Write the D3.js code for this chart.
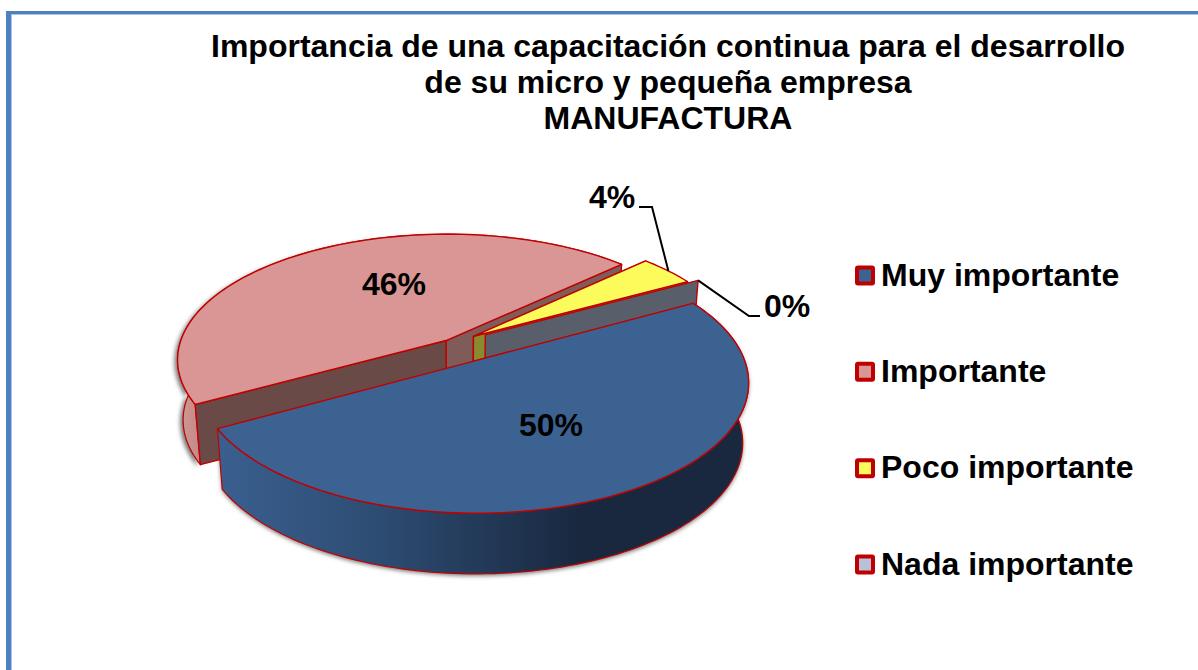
<!DOCTYPE html>
<html><head><meta charset="utf-8">
<script src="https://cdnjs.cloudflare.com/ajax/libs/d3/7.8.5/d3.min.js"></script>
<style>html,body{margin:0;padding:0;background:#fff}svg{display:block}text{font-family:"Liberation Sans",Arial,sans-serif;font-weight:bold;fill:#000}</style>
</head><body><svg id="c" width="1198" height="670"></svg>
<script>
const titleLines = ["Importancia de una capacitación continua para el desarrollo","de su micro y pequeña empresa","MANUFACTURA"];
const categories = ["Muy importante","Importante","Poco importante","Nada importante"];
const values = [50,46,4,0];
const labels = ["50%","46%","4%","0%"];
const topColors = ["#3b6291","#d99694","#fbfb5c","#b9c1d9"];
const explodeX = [0.066,-0.034,0.07,0.115];
const explodeY = [0.146,-0.02,-0.055,-0.067];

const RX=266,RY=123,CX=455,CY=343,K=0.15,DEPTH=60,TAPER=0.02,STROKE="#c00000",START=61;
const svg=d3.select("#c");
const defs=svg.append("defs");
const g1=defs.append("linearGradient").attr("id","blueWall").attr("gradientUnits","userSpaceOnUse").attr("x1",220).attr("x2",750).attr("y1",0).attr("y2",0);
[[0,"#3a5f8f"],[.3,"#2d4c72"],[.68,"#19283f"],[1,"#19283f"]].forEach(s=>g1.append("stop").attr("offset",s[0]).attr("stop-color",s[1]));
const g2=defs.append("linearGradient").attr("id","pinkWall").attr("gradientUnits","userSpaceOnUse").attr("x1",177).attr("x2",205).attr("y1",0).attr("y2",0);
[[0,"#d79a98"],[1,"#bb8583"]].forEach(s=>g2.append("stop").attr("offset",s[0]).attr("stop-color",s[1]));
const f=defs.append("filter").attr("id","soft").attr("x","-10%").attr("y","-10%").attr("width","120%").attr("height","120%");
f.append("feGaussianBlur").attr("stdDeviation",2);

// frame
svg.append("rect").attr("x",6).attr("y",11).attr("width",1192).attr("height",3).attr("fill","#4f81bd");
svg.append("rect").attr("x",6).attr("y",11).attr("width",5).attr("height",659).attr("fill","#4f81bd");
svg.append("rect").attr("x",11).attr("y",14).attr("width",1187).attr("height",1).attr("fill","#a9c4e6");
svg.append("rect").attr("x",11).attr("y",14).attr("width",1).attr("height",656).attr("fill","#a9c4e6");

// title
svg.append("g").selectAll("text").data(titleLines).join("text")
 .attr("x",668).attr("y",(d,i)=>57+i*36).attr("text-anchor","middle").attr("font-size",32).text(d=>d);

const project=(X,Y,Z)=>{const s=1/(1-K*Y);const t=1-TAPER*Z;return [CX+RX*X*s*t, CY+RY*Y*s+DEPTH*Z*(0.95+0.05*s)];};
const arcs=d3.pie().sort(null).value(d=>d).startAngle(START*Math.PI/180).endAngle((START+360)*Math.PI/180)(values);
const pt=(i,a,r,z)=>project(explodeX[i]+r*Math.sin(a), explodeY[i]-r*Math.cos(a), z);
const line=d3.line();
const arcPts=(i,z)=>{const A=arcs[i],n=Math.max(2,Math.ceil((A.endAngle-A.startAngle)*40));
  return d3.range(n+1).map(j=>pt(i,A.startAngle+(A.endAngle-A.startAngle)*j/n,1,z));};
const close=p=>line(p)+"Z";
const layer=svg.append("g");
const draw=(d,fill,w=1.4)=>layer.append("path").attr("d",d).attr("fill",fill).attr("stroke",STROKE).attr("stroke-width",w).attr("stroke-linejoin","round");
const wallOuter=i=>close(arcPts(i,0).concat(arcPts(i,1).reverse()));
const wallCut=(i,a,z=1)=>close([pt(i,a,0,0),pt(i,a,1,0),pt(i,a,1,z),pt(i,a,0,z)]);
const topFace=i=>close([pt(i,0,0,0)].concat(arcPts(i,0)));

// soft shadow under the lower walls
layer.append("path").attr("d",wallOuter(1)).attr("fill","#777").attr("filter","url(#soft)").attr("transform","translate(-3,2)");
layer.append("path").attr("d",wallOuter(0)).attr("fill","#777").attr("filter","url(#soft)").attr("transform","translate(0,2)");

// pink
draw(wallOuter(1),"url(#pinkWall)",1.2);
draw(wallCut(1,arcs[1].endAngle),"#7f5b5a");
draw(wallCut(1,arcs[1].startAngle),"#6a4a47");
draw(topFace(1),topColors[1]);
// yellow
draw(wallCut(2,arcs[2].startAngle),"#8a8a30");
draw(wallCut(2,arcs[2].endAngle),"#8a8a30");
draw(topFace(2),topColors[2]);
// grey (0% slice shows only its cut wall)
draw(wallCut(3,arcs[3].startAngle),"#585f6b");
// blue
draw(wallOuter(0),"url(#blueWall)",1.2);
draw(wallCut(0,arcs[0].startAngle),"#2a3f5c");
draw(topFace(0),topColors[0]);

// data labels
const lab=[[551,436],[394,295],[612,208],[787,317]];
svg.append("g").selectAll("text").data(labels).join("text").attr("font-size",32).attr("text-anchor","middle")
 .attr("x",(d,i)=>lab[i][0]).attr("y",(d,i)=>lab[i][1]).text(d=>d);
// leaders
svg.append("path").attr("d",line([[639,207],[652,207],pt(2,arcs[2].startAngle+0.13,1,0)])).attr("fill","none").attr("stroke","#000").attr("stroke-width",2);
svg.append("path").attr("d",line([pt(3,arcs[3].startAngle,1,0),[749,316],[760,316]])).attr("fill","none").attr("stroke","#000").attr("stroke-width",2);

// legend
const ly=d3.scalePoint().domain(categories).range([275.5,564.5]);
const lg=svg.append("g").selectAll("g").data(categories).join("g").attr("transform",d=>`translate(0,${ly(d)})`);
lg.append("rect").attr("x",857).attr("y",-8).attr("width",16).attr("height",16).attr("rx",1).attr("fill",(d,i)=>topColors[i]).attr("stroke",STROKE).attr("stroke-width",4);
lg.append("text").attr("x",881).attr("y",10).attr("font-size",32).text(d=>d);
</script></body></html>
